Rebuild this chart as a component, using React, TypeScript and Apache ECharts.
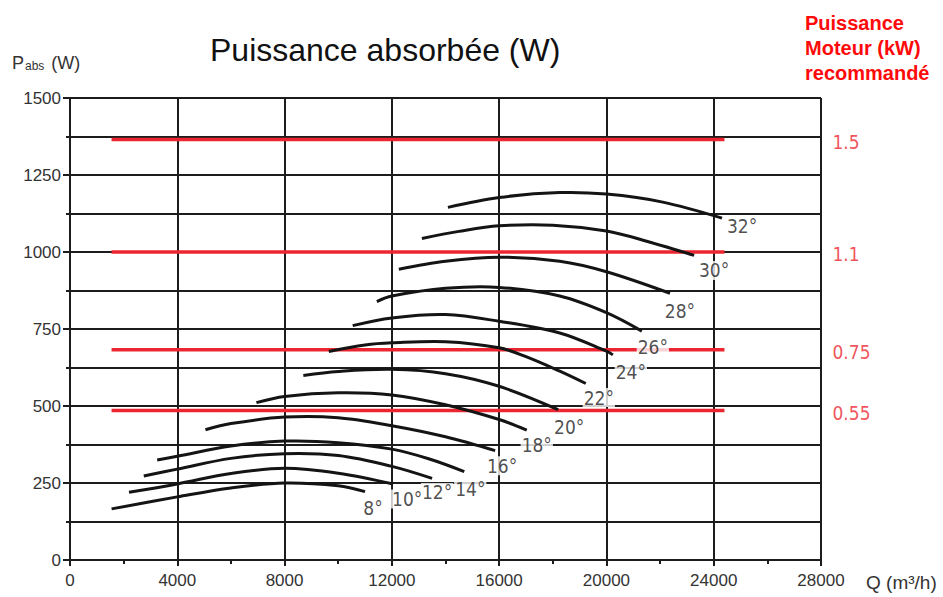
import React, { useEffect, useRef } from 'react';
import * as echarts from 'echarts';

// Curve angle labels
const angleLabels = ['8°', '10°', '12°', '14°', '16°', '18°', '20°', '22°', '24°', '26°', '28°', '30°', '32°'];

// Absorbed power curves: [Q (m3/h), P (W)]
const c08 = [[1550, 166], [4000, 205], [6000, 234], [8000, 250], [10000, 241], [11000, 222]];
const c10 = [[2200, 220], [4000, 247], [6000, 281], [8000, 298], [10000, 282], [12050, 247]];
const c12 = [[2750, 273], [4000, 295], [6000, 330], [8000, 345], [10000, 339], [12000, 304], [13500, 265]];
const c14 = [[3250, 325], [4000, 337], [6000, 370], [8000, 386], [10000, 381], [12000, 360], [13400, 328], [14700, 287]];
const c16 = [[5050, 423], [6000, 443], [8000, 464], [10000, 462], [12000, 436], [14000, 400], [15850, 355]];
const c18 = [[6950, 511], [8000, 531], [10000, 543], [12000, 536], [14000, 504], [16000, 456], [17030, 422]];
const c20 = [[8700, 599], [10000, 612], [12000, 619], [14000, 605], [16000, 564], [18200, 488]];
const c22 = [[9650, 677], [11000, 698], [12000, 705], [14000, 709], [16000, 689], [17000, 660], [18260, 613], [19230, 573]];
const c24 = [[10540, 761], [12000, 786], [14000, 797], [16000, 775], [18260, 737], [20000, 678], [20240, 666]];
const c26 = [[11440, 839], [12000, 857], [14000, 882], [16000, 885], [18260, 857], [20000, 803], [21320, 743]];
const c28 = [[12260, 944], [14000, 970], [16000, 983], [18260, 970], [20000, 936], [22370, 866]];
const c30 = [[13120, 1044], [14500, 1067], [16000, 1085], [18000, 1087], [20000, 1068], [21500, 1035], [23270, 989]];
const c32 = [[14090, 1145], [16000, 1177], [18260, 1193], [20000, 1188], [22100, 1162], [24310, 1110]];
const curves = [c08, c10, c12, c14, c16, c18, c20, c22, c24, c26, c28, c30, c32];

// Recommended motor power (kW) and the absorbed power level of each red line
const motorLabels = ['1.5', '1.1', '0.75', '0.55'];
const motorLevels = [1365, 1000, 683, 485];
const motorLineRange = [1550, 24400];

// Axis ticks
const xMin = 0, xMax = 28000, xStep = 4000;
const yMin = 0, yMax = 1500, yStep = 250;

// Label pixel offsets (style only)
const labelOffsets = [
  [8, 16], [14, 15], [5, 14], [6, 17], [7, 15], [10, 15], [11, 17],
  [13, 14], [18, 17], [11, 16], [10, 18], [20, 15], [20, 8],
];

const GRID = '#1c1c1c';
const RED = '#ec2631';
const FONT = "'Liberation Sans', Arial, Helvetica, sans-serif";
const NARROW = "'Liberation Sans Narrow', 'Arial Narrow', 'DejaVu Sans Condensed', 'Liberation Sans', Arial, sans-serif";

export default function App() {
  const ref = useRef<HTMLDivElement>(null);
  useEffect(() => {
    if (!ref.current) return;
    const chart = echarts.init(ref.current, undefined, { renderer: 'svg' });

    const redLines = motorLevels.map((v) => ({
      type: 'line',
      data: [[motorLineRange[0], v], [motorLineRange[1], v]],
      symbol: 'none',
      lineStyle: { color: RED, width: 3.5 },
      z: 3,
      silent: true,
    }));

    // Each curve: smooth polyline through its points, placed with the axes' scales
    const curveSeries = curves.map((c) => ({
      type: 'custom',
      data: c,
      encode: { x: 0, y: 1 },
      z: 4,
      silent: true,
      renderItem: (params: any, api: any) => {
        if (params.dataIndex !== 0) return null;
        const pts = c.map((p) => api.coord(p));
        return {
          type: 'polyline',
          shape: { points: pts, smooth: 0.35 },
          style: { stroke: '#141414', lineWidth: 3, fill: 'none' },
        };
      },
    }));

    const labelSeries = {
      type: 'scatter',
      z: 6,
      symbolSize: 1,
      itemStyle: { color: 'rgba(0,0,0,0)' },
      silent: true,
      data: curves.map((c, i) => {
        const last = c[c.length - 1];
        return {
          value: [last[0], last[1]],
          label: {
            show: true,
            position: 'inside',
            offset: labelOffsets[i],
            formatter: angleLabels[i],
            fontFamily: NARROW,
            fontSize: 19,
            color: '#222',
            backgroundColor: '#ffffff',
            padding: [0, 1, 0, 1],
          },
        };
      }),
    };

    const motorLabelSeries = {
      type: 'scatter',
      z: 6,
      symbolSize: 1,
      itemStyle: { color: 'rgba(0,0,0,0)' },
      silent: true,
      data: motorLevels.map((v, i) => ({
        value: [xMax, v],
        label: {
          show: true,
          position: 'right',
          distance: 11,
          offset: [0, 2],
          formatter: motorLabels[i],
          fontFamily: NARROW,
          fontSize: 19,
          color: RED,
        },
      })),
    };

    const option = {
      animation: false,
      backgroundColor: '#ffffff',
      grid: { left: 70, right: 122, top: 98, bottom: 37, containLabel: false },
      xAxis: {
        type: 'value',
        min: xMin,
        max: xMax,
        interval: xStep,
        axisLine: { show: true, lineStyle: { color: GRID, width: 2 } },
        axisTick: { show: true, length: 6, lineStyle: { color: GRID, width: 2 } },
        minorTick: { show: true, splitNumber: 2, length: 4, lineStyle: { color: GRID, width: 2 } },
        axisLabel: { margin: 12, fontSize: 17, color: '#333', fontFamily: FONT, formatter: (v: number) => String(v) },
        splitLine: { show: true, lineStyle: { color: GRID, width: 2 } },
      },
      yAxis: {
        type: 'value',
        min: yMin,
        max: yMax,
        interval: yStep,
        axisLine: { show: true, lineStyle: { color: GRID, width: 2 } },
        axisTick: { show: true, length: 7, lineStyle: { color: GRID, width: 2 } },
        minorTick: { show: true, splitNumber: 2, length: 4, lineStyle: { color: GRID, width: 2 } },
        axisLabel: { margin: 9, fontSize: 17, color: '#333', fontFamily: FONT, formatter: (v: number) => String(v) },
        splitLine: { show: true, lineStyle: { color: GRID, width: 2 } },
        minorSplitLine: { show: true, lineStyle: { color: GRID, width: 2 } },
      },
      graphic: [
        {
          type: 'text',
          left: 210,
          top: 34,
          style: { text: 'Puissance absorbée (W)', fontSize: 32, fontFamily: FONT, fill: '#111' },
        },
        {
          type: 'text',
          left: 12,
          top: 54,
          style: {
            text: '{p|P}{s|abs}{p| (W)}',
            rich: {
              p: { fontSize: 18, fontFamily: FONT, fill: '#333', lineHeight: 22, verticalAlign: 'bottom' },
              s: { fontSize: 12, fontFamily: FONT, fill: '#333', lineHeight: 14, verticalAlign: 'bottom', padding: [0, 2, 0, 1] },
            },
          },
        },
        {
          type: 'text',
          left: 866,
          top: 573,
          style: { text: 'Q (m³/h)', fontSize: 19, fontFamily: FONT, fill: '#333' },
        },
        {
          type: 'text',
          left: 805,
          top: 10,
          style: {
            text: 'Puissance\nMoteur (kW)\nrecommandé',
            fontSize: 20,
            fontWeight: 'bold',
            lineHeight: 25,
            fontFamily: FONT,
            fill: '#ff0a0a',
          },
        },
      ],
      series: [...redLines, ...curveSeries, labelSeries, motorLabelSeries],
    };

    chart.setOption(option as any);
    return () => chart.dispose();
  }, []);

  return (
    <div
      ref={ref}
      style={{ position: 'absolute', left: 0, top: 0, width: 943, height: 597, background: '#fff' }}
    />
  );
}
